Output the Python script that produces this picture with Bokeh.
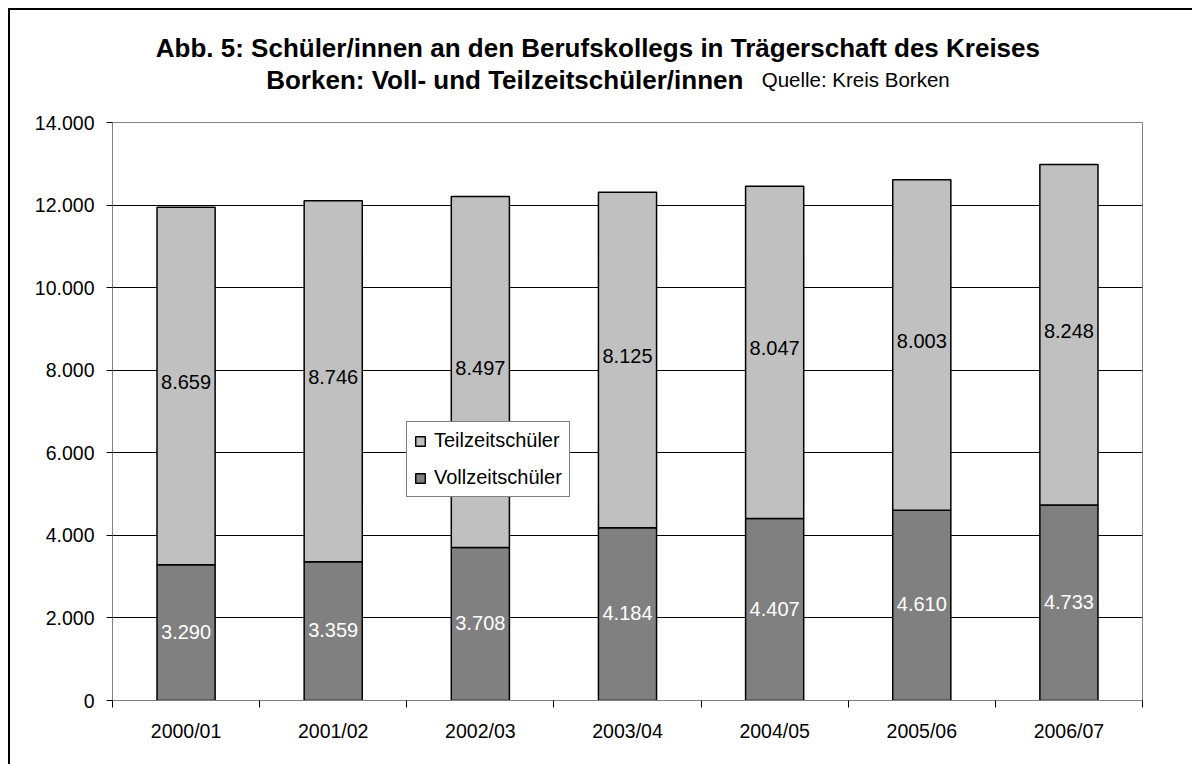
import numpy as np
from bokeh.plotting import figure
from bokeh.layouts import column
from bokeh.models import (ColumnDataSource, Range1d, FixedTicker, Legend,
                          LegendItem)
from bokeh.core.properties import value
from bokeh.embed import file_html
from bokeh.resources import INLINE

# ---- data ----
years = ["2000/01", "2001/02", "2002/03", "2003/04", "2004/05", "2005/06", "2006/07"]
vollzeit = [3290, 3359, 3708, 4184, 4407, 4610, 4733]
teilzeit = [8659, 8746, 8497, 8125, 8047, 8003, 8248]
y_ticks = [0, 2000, 4000, 6000, 8000, 10000, 12000, 14000]

title_line1 = "Abb. 5: Schüler/innen an den Berufskollegs in Trägerschaft des Kreises"
title_line2 = "Borken: Voll- und Teilzeitschüler/innen"
source_note = "Quelle: Kreis Borken"

FONT = "Liberation Sans"


def de(v):
    return f"{v:,}".replace(",", ".")


n = len(years)
xs = [i + 0.5 for i in range(n)]
totals = [v + t for v, t in zip(vollzeit, teilzeit)]

src = ColumnDataSource(dict(
    x=xs,
    voll=vollzeit,
    total=totals,
    voll_mid=[v / 2 for v in vollzeit],
    teil_mid=[v + t / 2 for v, t in zip(vollzeit, teilzeit)],
    voll_lab=[de(v) for v in vollzeit],
    teil_lab=[de(t) for t in teilzeit],
))

W = 1182
TH = 100

# ---- title strip ----
tf = figure(width=W, height=TH, x_range=Range1d(0, W), y_range=Range1d(0, TH),
            output_backend="svg", toolbar_location=None,
            x_axis_location=None, y_axis_location=None,
            min_border=0, min_border_left=0, min_border_right=0,
            min_border_top=0, min_border_bottom=0)
tf.grid.visible = False
tf.outline_line_color = None
tf.background_fill_color = "white"
tf.border_fill_color = "white"
tf.text(x=[557], y=[63], text=[title_line1], text_align="center",
        text_baseline="alphabetic", text_font=value(FONT), text_font_size="26px",
        text_font_style="bold", text_color="black")
tf.text(x=[724], y=[31], text=[title_line2], text_align="right",
        text_baseline="alphabetic", text_font=value(FONT), text_font_size="26px",
        text_font_style="bold", text_color="black")
tf.text(x=[745], y=[31], text=[source_note], text_align="left",
        text_baseline="alphabetic", text_font=value(FONT), text_font_size="20.5px",
        text_color="black")

# ---- chart ----
p = figure(width=W, height=764 - 10 - TH,
           x_range=Range1d(0, n), y_range=Range1d(0, 14000),
           output_backend="svg", toolbar_location=None,
           min_border_left=102, min_border_right=50,
           min_border_top=12, min_border_bottom=64)
p.background_fill_color = "white"
p.border_fill_color = "white"
p.outline_line_color = "#808080"
p.outline_line_width = 1

# grid
p.xgrid.visible = False
p.ygrid.ticker = FixedTicker(ticks=y_ticks)
p.ygrid.grid_line_color = "black"
p.ygrid.grid_line_width = 1

# bars
bar_w = 0.395
r_voll = p.vbar(x="x", bottom=0, top="voll", width=bar_w, source=src,
                fill_color="#808080", line_color="black", line_width=1.5)
r_teil = p.vbar(x="x", bottom="voll", top="total", width=bar_w, source=src,
                fill_color="#c0c0c0", line_color="black", line_width=1.5)

# value labels
p.text(x="x", y="voll_mid", text="voll_lab", source=src,
       text_align="center", text_baseline="middle", text_color="white",
       text_font=value(FONT), text_font_size="20px", y_offset=-1)
p.text(x="x", y="teil_mid", text="teil_lab", source=src,
       text_align="center", text_baseline="middle", text_color="black",
       text_font=value(FONT), text_font_size="20px", y_offset=-4)

# y axis
yax = p.yaxis[0]
yax.ticker = FixedTicker(ticks=y_ticks)
yax.major_label_overrides = {t: de(t) for t in y_ticks}
yax.axis_line_color = "#808080"
yax.major_tick_line_color = "black"
yax.major_tick_out = 6
yax.major_tick_in = 0
yax.minor_tick_out = 0
yax.minor_tick_in = 0
yax.major_label_standoff = 12
yax.major_label_text_font = FONT
yax.major_label_text_font_size = "19.5px"
yax.major_label_text_color = "black"

# x axis
xax = p.xaxis[0]
xax.ticker = FixedTicker(ticks=xs, minor_ticks=list(range(n + 1)))
xax.major_label_overrides = {x: y for x, y in zip(xs, years)}
xax.axis_line_color = "#808080"
xax.major_tick_out = 0
xax.major_tick_in = 0
xax.minor_tick_out = 7
xax.minor_tick_in = 0
xax.minor_tick_line_color = "black"
xax.major_label_standoff = 12
xax.major_label_text_font = FONT
xax.major_label_text_font_size = "19.5px"
xax.major_label_text_color = "black"

# legend
legend = Legend(items=[LegendItem(label="Teilzeitschüler", renderers=[r_teil]),
                       LegendItem(label="Vollzeitschüler", renderers=[r_voll])],
                location=(294, 203))
legend.border_line_color = "black"
legend.border_line_width = 1
legend.background_fill_color = "white"
legend.background_fill_alpha = 1
legend.padding = 7
legend.margin = 0
legend.spacing = 14
legend.glyph_width = 12
legend.glyph_height = 12
legend.label_height = 22
legend.label_standoff = 8
legend.label_text_font = FONT
legend.label_text_font_size = "20px"
legend.label_text_color = "black"
p.add_layout(legend)

layout = column(tf, p, spacing=0)
layout.styles = {"margin-left": "8px", "margin-top": "8px",
                 "border-left": "2px solid black", "border-top": "2px solid black"}

open("out.html", "w").write(file_html(layout, INLINE))
